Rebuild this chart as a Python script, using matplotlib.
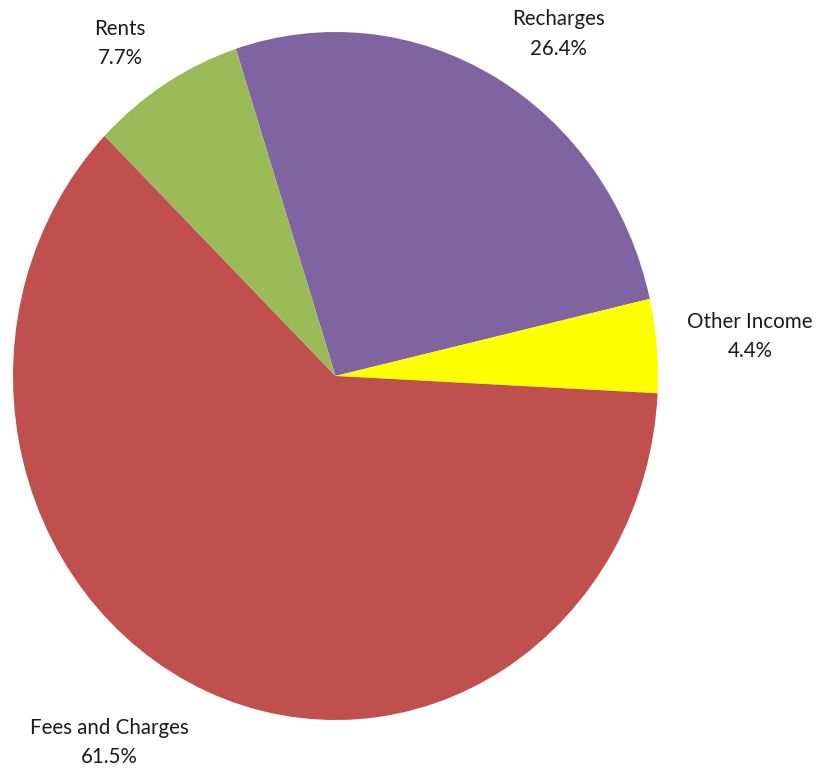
import matplotlib
matplotlib.use("Agg")
import matplotlib.pyplot as plt

# slices, clockwise from the top-left boundary
labels = ["Recharges", "Other Income", "Fees and Charges", "Rents"]
shares = [26.4, 4.4, 61.5, 7.7]
colors = ["#8064A2", "#FFFF00", "#C0504D", "#9BBB59"]

# label anchor points (data coords, pie radius = 1)
label_xy = {
    "Recharges": (0.69, 0.995),
    "Other Income": (1.285, 0.115),
    "Fees and Charges": (-0.70, -1.065),
    "Rents": (-0.668, 0.966),
}

W, H = 819, 769
fig = plt.figure(figsize=(W / 100, H / 100), dpi=100)
# the original pie is slightly taller than wide
ax = fig.add_axes([13 / W, (H - 720) / H, 645 / W, 688 / H])
ax.pie(shares, colors=colors, startangle=108, counterclock=False,
       wedgeprops={"linewidth": 0})
ax.set_aspect("auto")
ax.set_xlim(-1, 1)
ax.set_ylim(-1, 1)
ax.axis("off")

for name, v in zip(labels, shares):
    x, y = label_xy[name]
    ax.text(x, y, f"{name}\n{v:.1f}%", ha="center", va="center",
            fontsize=14.8, family="Lato", color="#1a1a1a",
            linespacing=1.6, clip_on=False)

fig.savefig("out.png", dpi=100)
